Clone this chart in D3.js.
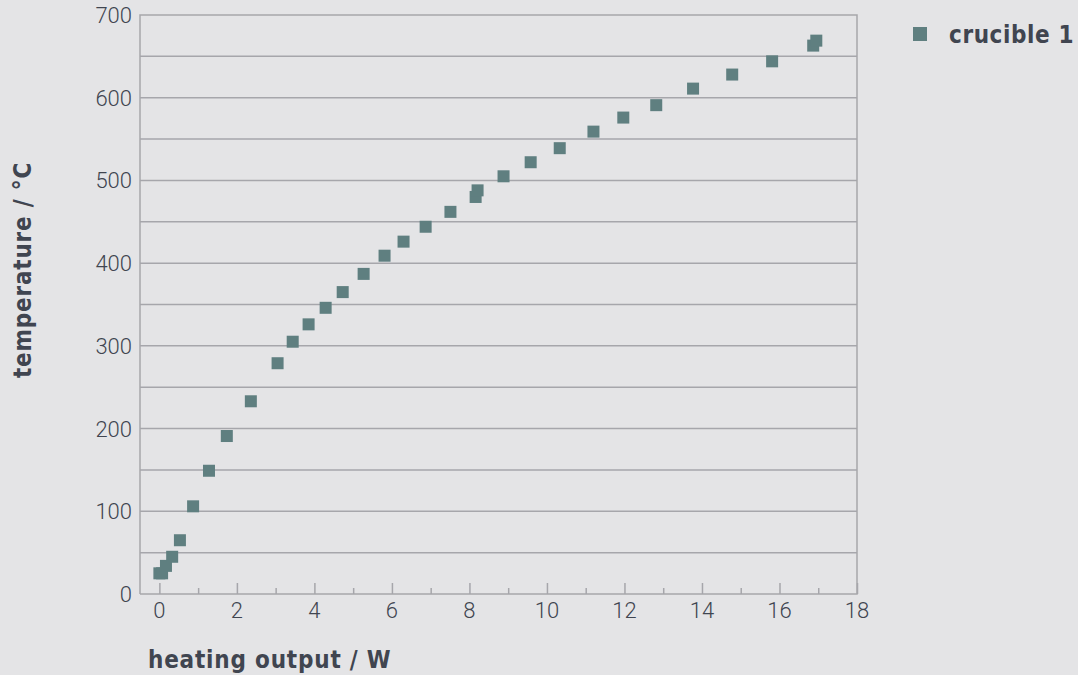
<!DOCTYPE html>
<html>
<head>
<meta charset="utf-8">
<script src="https://cdn.jsdelivr.net/npm/d3@7"></script>
<style>
  html, body { margin: 0; padding: 0; background: #e4e4e6; }
  svg { display: block; }
</style>
</head>
<body>
<figure style="margin:0"></figure>
<script>
// heating output (W) and temperature (°C) for crucible 1
const seriesName = "crucible 1";
const heatingOutput = [0.0, 0.07, 0.17, 0.33, 0.53, 0.87, 1.28, 1.74, 2.36, 3.05, 3.44, 3.85, 4.29, 4.73, 5.27, 5.81, 6.3, 6.87, 7.51, 8.16, 8.21, 8.88, 9.58, 10.33, 11.2, 11.97, 12.82, 13.77, 14.78, 15.81, 16.87, 16.95];
const temperature = [25, 25, 34, 45, 65, 106, 149, 191, 233, 279, 305, 326, 346, 365, 387, 409, 426, 444, 462, 480, 488, 505, 522, 539, 559, 576, 591, 611, 628, 644, 663, 669];
const xTicks = [0, 2, 4, 6, 8, 10, 12, 14, 16, 18];
const xMinorTicks = [1, 3, 5, 7, 9, 11, 13, 15, 17];
const yTicks = [0, 100, 200, 300, 400, 500, 600, 700];
const yGrid = [50, 100, 150, 200, 250, 300, 350, 400, 450, 500, 550, 600, 650];

const width = 1078, height = 675;
const plotLeft = 140, plotRight = 857, plotTop = 15, plotBottom = 594;
const gridColor = "#a6a6ab";
const textColor = "#404550";
const markColor = "#5f7f80";
const tickFont = "Roboto, 'DejaVu Sans', sans-serif";
const titleFont = "'DejaVu Sans Condensed', 'DejaVu Sans', sans-serif";

const svg = d3.select("figure").append("svg")
  .attr("width", width)
  .attr("height", height);

const x = d3.scaleLinear().domain([-0.5, 18]).range([plotLeft, plotRight]);
const y = d3.scaleLinear().domain([0, 700]).range([plotBottom, plotTop]);

// horizontal grid
svg.append("g")
  .selectAll("line")
  .data(yGrid)
  .enter()
  .append("line")
  .attr("x1", plotLeft).attr("x2", plotRight)
  .attr("y1", d => y(d)).attr("y2", d => y(d))
  .attr("stroke", gridColor)
  .attr("stroke-width", 1.5);

// frame
svg.append("path")
  .attr("d", `M${plotLeft},${plotBottom}V${plotTop}H${plotRight}V${plotBottom}H${plotLeft}`)
  .attr("fill", "none")
  .attr("stroke", gridColor)
  .attr("stroke-width", 1.5);

// x axis: ticks point up into the plot
const xAxis = svg.append("g")
  .attr("transform", `translate(0,${plotBottom})`)
  .call(d3.axisTop(x).tickValues(xTicks).tickSize(11).tickFormat(""));
xAxis.select(".domain").remove();
xAxis.selectAll("line").attr("stroke", gridColor).attr("stroke-width", 1.5);

const xMinor = svg.append("g")
  .attr("transform", `translate(0,${plotBottom})`)
  .call(d3.axisTop(x).tickValues(xMinorTicks).tickSize(6).tickFormat(""));
xMinor.select(".domain").remove();
xMinor.selectAll("line").attr("stroke", gridColor).attr("stroke-width", 1.5);

// x tick labels
svg.append("g")
  .selectAll("text")
  .data(xTicks)
  .enter()
  .append("text")
  .attr("x", d => x(d))
  .attr("y", 618)
  .attr("text-anchor", "middle")
  .style("font-family", tickFont)
  .style("font-weight", 300)
  .style("font-size", "22px")
  .style("fill", textColor)
  .text(d => d);

// y tick labels
svg.append("g")
  .selectAll("text")
  .data(yTicks)
  .enter()
  .append("text")
  .attr("x", 132)
  .attr("y", d => y(d) + 8)
  .attr("text-anchor", "end")
  .style("font-family", tickFont)
  .style("font-weight", 300)
  .style("font-size", "22px")
  .style("fill", textColor)
  .text(d => d);

// axis titles
svg.append("text")
  .attr("x", 148)
  .attr("y", 668)
  .style("font-family", titleFont)
  .style("font-size", "24px")
  .style("font-weight", "bold")
  .style("letter-spacing", "0.8px")
  .style("fill", textColor)
  .text("heating output / W");

svg.append("text")
  .attr("transform", "translate(31,270) rotate(-90)")
  .attr("text-anchor", "middle")
  .style("font-family", titleFont)
  .style("font-size", "24px")
  .style("font-weight", "bold")
  .style("letter-spacing", "0.8px")
  .style("fill", textColor)
  .text("temperature / °C");

// markers
const size = 12;
svg.append("g")
  .selectAll("rect")
  .data(heatingOutput.map((h, i) => ({ h, t: temperature[i] })))
  .enter()
  .append("rect")
  .attr("x", d => x(d.h) - size / 2)
  .attr("y", d => y(d.t) - size / 2)
  .attr("width", size)
  .attr("height", size)
  .attr("fill", markColor);

// legend
svg.append("rect")
  .attr("x", 913).attr("y", 27)
  .attr("width", 14).attr("height", 14)
  .attr("fill", markColor);
svg.append("text")
  .attr("x", 949)
  .attr("y", 43)
  .style("font-family", titleFont)
  .style("font-size", "24px")
  .style("font-weight", "bold")
  .style("letter-spacing", "0.6px")
  .style("fill", textColor)
  .text(seriesName);
</script>
</body>
</html>
